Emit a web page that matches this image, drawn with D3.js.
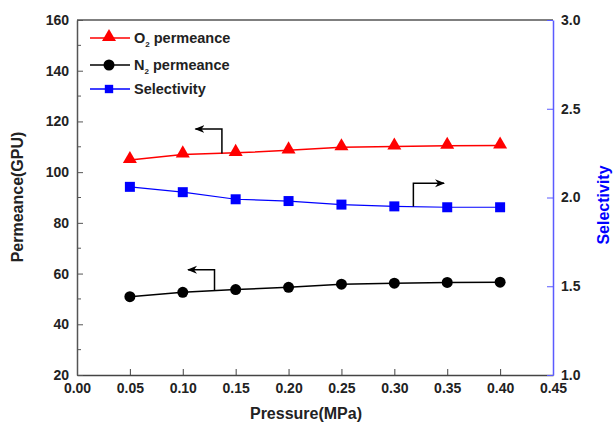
<!DOCTYPE html>
<html>
<head>
<meta charset="utf-8">
<script src="https://cdn.jsdelivr.net/npm/d3@7"></script>
<style>
  body { margin: 0; background: #fff; }
  text { font-family: "Liberation Sans", Arial, sans-serif; font-weight: bold; }
</style>
</head>
<body>
<div id="chart"></div>
<script>
var svgWidth = 615;
var svgHeight = 432;

var margin = { top: 20, right: 62, bottom: 57, left: 77 };
var width = svgWidth - margin.left - margin.right;
var height = svgHeight - margin.top - margin.bottom;

// data
var pressure = [0.05, 0.10, 0.15, 0.20, 0.25, 0.30, 0.35, 0.40];
var o2Permeance = [104.8, 107.0, 107.6, 108.6, 109.8, 110.1, 110.4, 110.5];
var n2Permeance = [50.9, 52.6, 53.7, 54.6, 55.8, 56.2, 56.5, 56.6];
var selectivity = [2.06, 2.03, 1.99, 1.98, 1.96, 1.95, 1.945, 1.945];
var xTicks = [0, 0.05, 0.10, 0.15, 0.20, 0.25, 0.30, 0.35, 0.40, 0.45];
var yTicks = [20, 40, 60, 80, 100, 120, 140, 160];
var y2Ticks = [1.0, 1.5, 2.0, 2.5, 3.0];

var svg = d3.select("#chart")
  .append("svg")
  .attr("width", svgWidth)
  .attr("height", svgHeight);

var chartGroup = svg.append("g")
  .attr("transform", `translate(${margin.left}, ${margin.top})`);

var xScale = d3.scaleLinear().domain([0, 0.45]).range([0, width]);
var yScale = d3.scaleLinear().domain([20, 160]).range([height, 0]);
var y2Scale = d3.scaleLinear().domain([1, 3]).range([height, 0]);

// top frame line
chartGroup.append("line")
  .attr("x1", 0).attr("x2", width)
  .attr("y1", 0).attr("y2", 0)
  .attr("stroke", "#555").attr("stroke-width", 1.5);

// bottom axis, ticks pointing in
var bottomAxis = d3.axisBottom(xScale)
  .tickValues(xTicks)
  .tickSizeInner(-6).tickSizeOuter(0)
  .tickFormat(d3.format(".2f"));
var xAxis = chartGroup.append("g")
  .attr("transform", `translate(0, ${height})`)
  .call(bottomAxis);
xAxis.selectAll("text").attr("y", 4).attr("dy", "1em").attr("font-size", 14).attr("fill", "#222");

// left axis
var leftAxis = d3.axisLeft(yScale)
  .tickValues(yTicks)
  .tickSizeInner(-6).tickSizeOuter(0);
var yAxis = chartGroup.append("g").call(leftAxis);
yAxis.selectAll("text").attr("x", -8).attr("font-size", 14).attr("fill", "#222");

// minor ticks on left axis
chartGroup.append("g").selectAll("line")
  .data(d3.range(30, 160, 20))
  .enter().append("line")
  .attr("x1", 0).attr("x2", 4)
  .attr("y1", d => yScale(d)).attr("y2", d => yScale(d))
  .attr("stroke", "#555");

// right axis in blue
var rightAxis = d3.axisRight(y2Scale)
  .tickValues(y2Ticks)
  .tickSizeInner(-6).tickSizeOuter(0)
  .tickFormat(d3.format(".1f"));
var y2Axis = chartGroup.append("g")
  .attr("transform", `translate(${width}, 0)`)
  .call(rightAxis);
y2Axis.select(".domain").attr("stroke", "#5a5aff").attr("stroke-width", 1.5);
y2Axis.selectAll(".tick line").attr("stroke", "#5a5aff");
y2Axis.selectAll("text").attr("x", 8).attr("font-size", 14).attr("fill", "#222");

xAxis.select(".domain").attr("stroke", "#444").attr("stroke-width", 1.5);
xAxis.selectAll(".tick line").attr("stroke", "#444");
yAxis.select(".domain").attr("stroke", "#555").attr("stroke-width", 1.5);
yAxis.selectAll(".tick line").attr("stroke", "#555");

// lines
var o2Line = d3.line().x((d, i) => xScale(pressure[i])).y(d => yScale(d));
var y2Line = d3.line().x((d, i) => xScale(pressure[i])).y(d => y2Scale(d));

chartGroup.append("path").datum(o2Permeance)
  .attr("d", o2Line).attr("fill", "none").attr("stroke", "red").attr("stroke-width", 1.5);
chartGroup.append("path").datum(n2Permeance)
  .attr("d", o2Line).attr("fill", "none").attr("stroke", "black").attr("stroke-width", 1.5);
chartGroup.append("path").datum(selectivity)
  .attr("d", y2Line).attr("fill", "none").attr("stroke", "blue").attr("stroke-width", 1.2);

var triangle = d3.symbol().type(d3.symbolTriangle).size(85);
var square = d3.symbol().type(d3.symbolSquare).size(100);

chartGroup.selectAll(".o2pt")
  .data(o2Permeance).enter().append("path")
  .attr("class", "o2pt")
  .attr("d", triangle)
  .attr("transform", (d, i) => `translate(${xScale(pressure[i])}, ${yScale(d) - 1})`)
  .attr("fill", "red");

chartGroup.selectAll(".n2pt")
  .data(n2Permeance).enter().append("circle")
  .attr("class", "n2pt")
  .attr("cx", (d, i) => xScale(pressure[i]))
  .attr("cy", d => yScale(d))
  .attr("r", 5.5)
  .attr("fill", "black");

chartGroup.selectAll(".selpt")
  .data(selectivity).enter().append("path")
  .attr("class", "selpt")
  .attr("d", square)
  .attr("transform", (d, i) => `translate(${xScale(pressure[i])}, ${y2Scale(d)})`)
  .attr("fill", "blue");

// arrows pointing to the axis each curve belongs to
svg.append("defs").append("marker")
  .attr("id", "arrowhead")
  .attr("viewBox", "0 0 10 10")
  .attr("refX", 9).attr("refY", 5)
  .attr("markerWidth", 10).attr("markerHeight", 10)
  .attr("markerUnits", "userSpaceOnUse")
  .attr("orient", "auto")
  .append("path")
  .attr("d", "M0,1 L10,5 L0,9 L3,5 Z")
  .attr("fill", "black");

function drawArrow(xv, yFrom, yTo, xEnd) {
  chartGroup.append("path")
    .attr("d", `M${xv},${yFrom} L${xv},${yTo} L${xEnd},${yTo}`)
    .attr("fill", "none")
    .attr("stroke", "black")
    .attr("stroke-width", 1.5)
    .attr("marker-end", "url(#arrowhead)");
}
drawArrow(xScale(0.137), yScale(107.4), yScale(117), xScale(0.112));
drawArrow(xScale(0.130), yScale(53.3), yScale(61.5), xScale(0.105));
drawArrow(xScale(0.318), y2Scale(1.95), y2Scale(2.08), xScale(0.347));

// legend
var legendItems = [
  { name: "O", sub: "2", rest: " permeance", color: "red", shape: "tri" },
  { name: "N", sub: "2", rest: " permeance", color: "black", shape: "circle" },
  { name: "Selectivity", sub: "", rest: "", color: "blue", shape: "square" }
];
var legendY = [38, 65, 89];
var legend = svg.append("g");
legendItems.forEach(function(item, i) {
  var ly = legendY[i];
  legend.append("line")
    .attr("x1", 90).attr("x2", 130)
    .attr("y1", ly).attr("y2", ly)
    .attr("stroke", item.color).attr("stroke-width", 1.5);
  if (item.shape === "tri") {
    legend.append("path").attr("d", triangle)
      .attr("transform", `translate(109, ${ly - 1})`).attr("fill", item.color);
  } else if (item.shape === "circle") {
    legend.append("circle").attr("cx", 109).attr("cy", ly).attr("r", 5.5).attr("fill", item.color);
  } else {
    legend.append("path").attr("d", d3.symbol().type(d3.symbolSquare).size(70))
      .attr("transform", `translate(109, ${ly})`).attr("fill", item.color);
  }
  var t = legend.append("text")
    .attr("x", 134).attr("y", ly + 5)
    .attr("font-size", 14.5).attr("fill", "#222");
  t.append("tspan").text(item.name);
  if (item.sub) {
    t.append("tspan").text(item.sub).attr("font-size", 8).attr("dy", 4);
    t.append("tspan").text(item.rest).attr("dy", -4);
  }
});

// axis titles
svg.append("text")
  .attr("transform", "rotate(-90)")
  .attr("x", -197).attr("y", 23)
  .attr("text-anchor", "middle")
  .attr("font-size", 16).attr("fill", "#222")
  .text("Permeance(GPU)");

svg.append("text")
  .attr("x", 306).attr("y", 419)
  .attr("text-anchor", "middle")
  .attr("font-size", 16).attr("fill", "#222")
  .text("Pressure(MPa)");

svg.append("text")
  .attr("transform", "rotate(-90)")
  .attr("x", -205).attr("y", 609)
  .attr("text-anchor", "middle")
  .attr("font-size", 16).attr("fill", "blue")
  .text("Selectivity");
</script>
</body>
</html>
